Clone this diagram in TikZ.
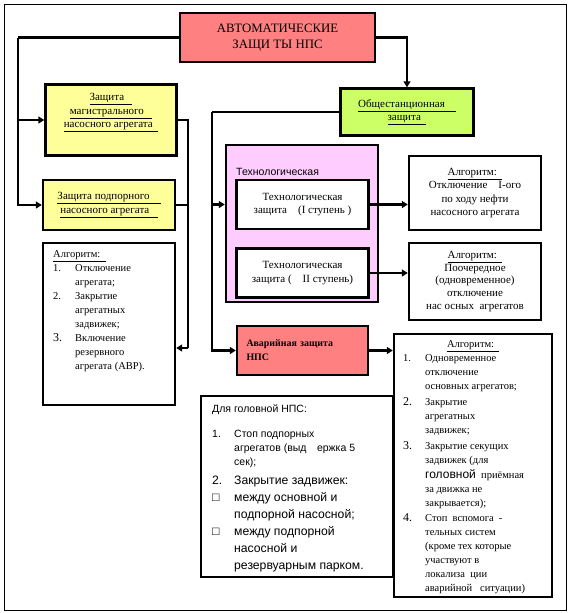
\documentclass[tikz,border=0pt]{standalone}
\usepackage{fontspec}
\setmainfont{Liberation Serif}
\setsansfont{Liberation Sans}
\definecolor{alarmred}{RGB}{255,128,128}
\definecolor{unityellow}{RGB}{255,255,153}
\definecolor{stationgreen}{RGB}{204,255,102}
\definecolor{techpink}{RGB}{255,204,255}
\usetikzlibrary{arrows.meta,positioning,calc}
\newcommand{\numcol}[1]{\makebox[22pt][l]{#1}}
\newcommand{\indcol}{\hspace*{22pt}}
\newcommand{\bigitem}{\fontsize{12.2}{16.4}\selectfont}
\tikzset{
  blk/.style={rectangle,draw=black,line width=2.4pt,align=center,
              font=\fontsize{11}{13.5}\selectfont,inner sep=2pt},
  txt/.style={inner sep=0pt,align=left,font=\fontsize{10.5}{14}\selectfont},
  link/.style={line width=2.4pt},
  arr/.style={-{Triangle[length=6pt,width=7pt]},line width=2.4pt},
}
\begin{document}
\begin{tikzpicture}[x=1pt,y=-1pt]
  \useasboundingbox (0,0) rectangle (569,613);
  \draw[line width=0.8pt] (4,4) rectangle (566,610);

  % top level
  \node[blk,fill=alarmred,minimum width=195pt,minimum height=49pt,
        font=\fontsize{12.8}{16}\selectfont] (title) at (277.5,37.5)
        {АВТОМАТИЧЕСКИЕ\\ЗАЩИ ТЫ НПС};

  % left column
  \node[blk,fill=unityellow,minimum width=131pt,minimum height=71pt] (mag) at (111,120)
        {\underline{Защита\ \ \ }\\\underline{магистрального\ \ \ }\\\underline{насосного агрегата\ \ }\\[5pt]};
  \node[blk,fill=unityellow,minimum width=132pt,minimum height=50pt] (podp) at (109,205)
        {\underline{Защита подпорного\ \ \ \ }\\\underline{насосного агрегата\ \ \ }};
  \node[blk,minimum width=132pt,minimum height=162pt] (algL) at (109,324) {};
  \node[txt,anchor=north west] (algLtext) at (53,250)
        {\underline{Алгоритм:\ \ }\\
         \numcol{1.}Отключение\\\indcol агрегата;\\
         \numcol{2.}Закрытие\\\indcol агрегатных\\\indcol задвижек;\\
         \numcol{\large 3.}Включение\\\indcol резервного\\\indcol агрегата (АВР).};

  % station level
  \node[blk,fill=stationgreen,minimum width=133pt,minimum height=47pt] (obsch) at (407,112)
        {\underline{Общестанционная\ \ \ \ }\\\underline{защита\ \ }};
  \node[blk,fill=techpink,minimum width=152pt,minimum height=157pt] (tech) at (302,223.5) {};
  \node[inner sep=0pt,anchor=west,font=\sffamily\fontsize{10.5}{12}\selectfont] (techlbl) at (236,172)
        {Технологическая};
  \node[blk,fill=white,minimum width=132pt,minimum height=49pt] (tech1) at (302.5,204.5)
        {Технологическая\\защита\quad(I ступень\ )};
  \node[blk,fill=white,minimum width=132pt,minimum height=49pt] (tech2) at (302.5,273)
        {Технологическая\\защита (\quad II ступень)};
  \node[blk,minimum width=132pt,minimum height=74pt] (algA) at (475,193)
        {\underline{Алгоритм:\ \ }\\Отключение\quad I-ого\\по ходу нефти\\насосного агрегата};
  \node[blk,minimum width=132pt,minimum height=77pt,font=\fontsize{11}{12.8}\selectfont] (algB) at (475,281.5)
        {\underline{Алгоритм:\ \ }\\Поочередное\\(одновременное)\\отключение\\нас осных\ \ агрегатов};
  \node[blk,fill=alarmred,minimum width=131pt,minimum height=49pt,align=left,
        text width=112pt,font=\bfseries\fontsize{9.9}{14}\selectfont] (avar) at (302.5,350.5)
        {Аварийная защита\\НПС};

  % emergency algorithm
  \node[blk,minimum width=158pt,minimum height=263pt] (algC) at (473,465.5) {};
  \node[txt,anchor=north west,font=\fontsize{10.5}{14.1}\selectfont] (algCtext) at (403,340)
        {\makebox[140pt]{\underline{Алгоритм:\ \ }}\\
         \numcol{1.}Одновременное\\\indcol отключение\\\indcol основных агрегатов;\\[2pt]
         \numcol{\large 2.}Закрытие\\\indcol агрегатных\\\indcol задвижек;\\[2pt]
         \numcol{\large 3.}Закрытие секущих\\\indcol задвижек (для\\
         \indcol{\sffamily\large головной}\ \ приёмная\\\indcol за движка не\\\indcol закрывается);\\[1pt]
         \numcol{\large 4.}Стоп\ \ вспомога\ \ -\\\indcol тельных систем\\\indcol (кроме тех которые\\
         \indcol участвуют в\\\indcol локализа\ \ ции\\\indcol аварийной\ \ \ ситуации)};
  \node[blk,minimum width=192pt,minimum height=181pt] (head) at (297,486.5) {};
  \node[txt,anchor=north west,font=\sffamily\fontsize{10.5}{14}\selectfont] (headtext) at (212,404)
        {Для головной НПС:\\[11pt]
         \numcol{1.}Стоп подпорных\\\indcol агрегатов (выд\quad ержка 5\\\indcol сек);\\[5pt]
         \bigitem\numcol{2.}Закрытие задвижек:\\[3pt]
         \bigitem\numcol{□}между основной и\\[3pt]
         \bigitem\indcol подпорной насосной;\\[3pt]
         \bigitem\numcol{□}между подпорной\\[3pt]
         \bigitem\indcol насосной и\\[3pt]
         \bigitem\indcol резервуарным парком.};

  % connectors
  \coordinate (lbus) at (18,37.5);
  \coordinate (rbus) at (188,348);
  \coordinate (sbus) at (212,112);
  \draw[link] (title.west) -- (lbus);
  \draw[arr] (lbus) |- (podp.west);
  \draw[arr] (lbus |- mag.west) -- (mag.west);
  \draw[arr] (title.east) -| (obsch.north);
  \draw[link] (mag.east) -| (rbus);
  \draw[link] (podp.east) -- (podp.east -| rbus);
  \draw[arr] (rbus) -- (algL.east |- rbus);
  \draw[link] (obsch.west) -- (sbus);
  \draw[arr] (sbus) |- (avar.west);
  \draw[arr] (sbus |- tech1) -- (tech.west |- tech1);
  \foreach \a/\b in {tech1/algA,tech2/algB,avar/algC}
    \draw[arr] (\a.east) -- (\a.east -| \b.west);
\end{tikzpicture}
\end{document}
